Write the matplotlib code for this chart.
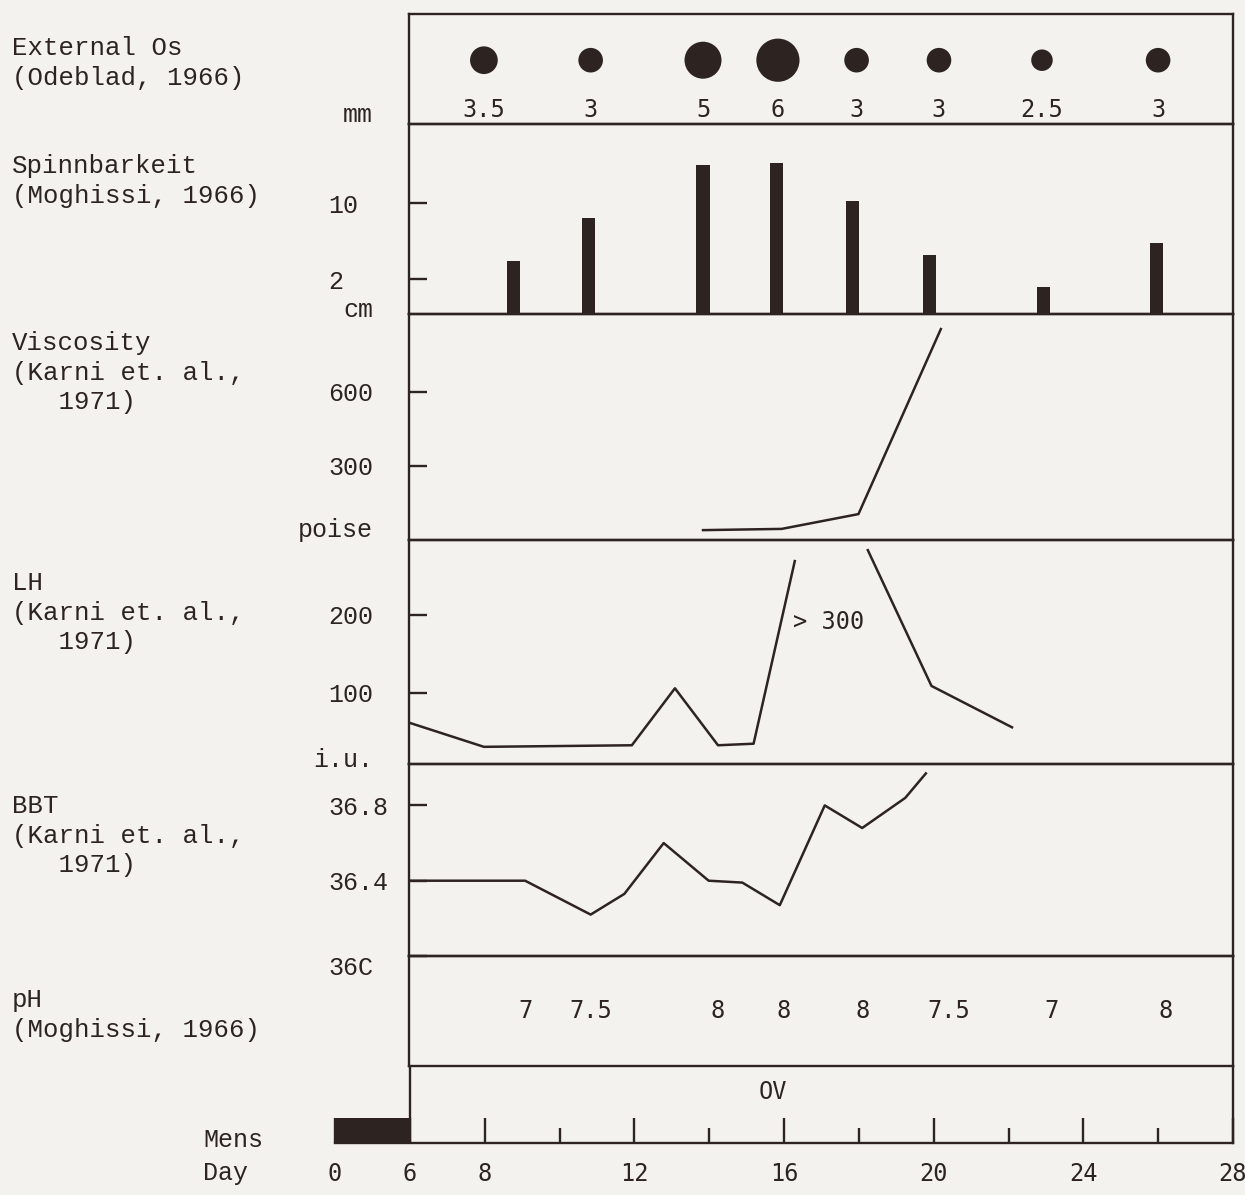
import numpy as np
import matplotlib.pyplot as plt

INK = "#2d2422"
PAPER = "#f3f2ee"
MONO = "Liberation Mono"
SANS_MONO = "DejaVu Sans Mono"
W, H = 1245, 1195

os_days = [8.0, 10.85, 13.85, 15.85, 17.95, 20.15, 22.9, 26.0]
os_mm = [3.5, 3, 5, 6, 3, 3, 2.5, 3]

spinn_days = [8.8, 10.8, 13.85, 15.8, 17.85, 19.9, 22.95, 25.95]
spinn_cm = [3.9, 8.5, 14.1, 14.3, 10.3, 4.5, 1.2, 5.8]

visc_days = [13.85, 15.95, 18.0, 20.2]
visc_poise = [40, 45, 105, 855]

# LH peak is off scale (> 300), so the line is broken there
lh_days = [6, 8.0, 11.95, 13.1, 14.25, 15.2, 16.3, 17.3, 18.25, 19.95, 22.1]
lh_iu = [62, 31, 33, 106, 33, 35, 269, np.nan, 283, 109, 56]

bbt_days = [6, 9.1, 10.85, 11.75, 12.8, 14.0, 14.9, 15.9, 17.1, 18.1, 19.25, 19.8]
bbt_c = [36.40, 36.40, 36.22, 36.33, 36.60, 36.40, 36.39, 36.27, 36.80, 36.68, 36.84, 36.97]

ph_days = [9.1, 10.85, 14.25, 16.0, 18.1, 20.4, 23.15, 26.2]
ph = [7, 7.5, 8, 8, 8, 7.5, 7, 8]

ov_day = 15.7
mens_days = (0, 6)

day_ticks = [0, 6, 8, 12, 16, 20, 24, 28]
minor_day_ticks = [10, 14, 18, 22, 26]

fig = plt.figure(figsize=(W / 100, H / 100), dpi=100, facecolor=PAPER)


def add_panel(top, bottom, left=409, right=1233):
    ax = fig.add_axes([left / W, 1 - bottom / H, (right - left) / W, (bottom - top) / H])
    ax.set_facecolor("none")
    for s in ax.spines.values():
        s.set_color(INK)
        s.set_linewidth(1.7)
    ax.set_xlim(6, 28)
    ax.tick_params(axis="x", bottom=False, labelbottom=False)
    ax.tick_params(axis="y", direction="in", length=13, width=1.7, color=INK,
                   pad=58, labelsize=18, labelcolor=INK)
    ax.set_yticks([])
    return ax


def yticks(ax, ticks, labels):
    ax.set_yticks(ticks, labels, fontfamily=MONO, ha="left")


# External Os
ax1 = add_panel(14, 124)
ax1.set_ylim(0, 1)
sizes = [(0.72 * (6 + 6.2 * m)) ** 2 for m in os_mm]
ax1.scatter(os_days, [0.58] * len(os_days), s=sizes, color=INK, linewidths=0)
for d, m in zip(os_days, os_mm):
    ax1.text(d, 0.13, f"{m:g}", ha="center", va="center", fontsize=17,
             family=SANS_MONO, color=INK)

# Spinnbarkeit
ax2 = add_panel(124, 314)
y_lo = -1.7
ax2.set_ylim(y_lo, 18.4)
ax2.bar(spinn_days, np.array(spinn_cm) - y_lo, bottom=y_lo, width=0.35, color=INK)
yticks(ax2, [2, 10], ["2", "10"])

# Viscosity
ax3 = add_panel(314, 540)
ax3.set_ylim(0, 916)
ax3.plot(visc_days, visc_poise, color=INK, lw=1.8)
yticks(ax3, [300, 600], ["300", "600"])

# LH
ax4 = add_panel(540, 764)
ax4.set_ylim(9, 296)
ax4.plot(lh_days, lh_iu, color=INK, lw=1.8)
ax4.text(16.25, 191, "> 300", ha="left", va="center", fontsize=17,
         family=SANS_MONO, color=INK)
yticks(ax4, [100, 200], ["100", "200"])

# BBT
ax5 = add_panel(764, 956)
ax5.set_ylim(36.0, 37.02)
ax5.plot(bbt_days, bbt_c, color=INK, lw=1.8)
yticks(ax5, [36.0, 36.4, 36.8], ["36C", "36.4", "36.8"])
ax5.get_yticklabels()[0].set_va("top")

# pH
ax6 = add_panel(956, 1066)
ax6.set_ylim(0, 1)
for d, v in zip(ph_days, ph):
    ax6.text(d, 0.5, f"{v:g}", ha="center", va="center", fontsize=17,
             family=SANS_MONO, color=INK)

# day axis with compressed menstruation days
ax7 = fig.add_axes([335 / W, 1 - 1143 / H, (1233 - 335) / W, (1143 - 1066) / H])
ax7.set_facecolor("none")
ax7.set_xscale("function", functions=(lambda d: np.where(d < 6, d / 3, d - 4),
                                      lambda u: np.where(u < 2, u * 3, u + 4)))
ax7.set_xlim(0, 28)
ax7.set_ylim(0, 1)
for side in ["top", "left"]:
    ax7.spines[side].set_visible(False)
for side in ["bottom", "right"]:
    ax7.spines[side].set_color(INK)
    ax7.spines[side].set_linewidth(1.7)
ax7.axvline(6, color=INK, lw=1.7)
ax7.bar(mens_days[0], 0.32, width=mens_days[1] - mens_days[0], align="edge",
        color=INK)
ax7.set_xticks(day_ticks, [str(d) for d in day_ticks], fontfamily=SANS_MONO)
ax7.set_xticks(minor_day_ticks, minor=True)
ax7.tick_params(axis="x", which="major", direction="in", length=18, width=1.7,
                color=INK, labelsize=17, labelcolor=INK, pad=14)
ax7.tick_params(axis="x", which="minor", direction="in", length=11, width=1.7,
                color=INK)
ax7.set_yticks([])
ax7.text(ov_day, 0.66, "OV", transform=ax7.get_xaxis_transform(), ha="center",
         va="center", fontsize=17, family=SANS_MONO, color=INK)

# left-hand labels
row_labels = [
    ("External Os\n(Odeblad, 1966)", 50),
    ("Spinnbarkeit\n(Moghissi, 1966)", 168),
    ("Viscosity\n(Karni et. al.,\n   1971)", 345),
    ("LH\n(Karni et. al.,\n   1971)", 585),
    ("BBT\n(Karni et. al.,\n   1971)", 808),
    ("pH\n(Moghissi, 1966)", 1002),
]
for txt, y in row_labels:
    fig.text(12 / W, 1 - (y - 14) / H, txt, ha="left", va="top", family=MONO,
             fontsize=18.5, color=INK, linespacing=1.3)

units = [("mm", 115), ("cm", 310), ("poise", 530), ("i.u.", 760)]
for txt, y in units:
    fig.text(373 / W, 1 - y / H, txt, ha="right", va="center", family=MONO,
             fontsize=18, color=INK)

fig.text(203 / W, 1 - 1140 / H, "Mens", ha="left", va="center", family=MONO,
         fontsize=18, color=INK)
fig.text(203 / W, 1 - 1173 / H, "Day", ha="left", va="center", family=MONO,
         fontsize=18, color=INK)

fig.savefig("out.png", dpi=100, facecolor=PAPER)
